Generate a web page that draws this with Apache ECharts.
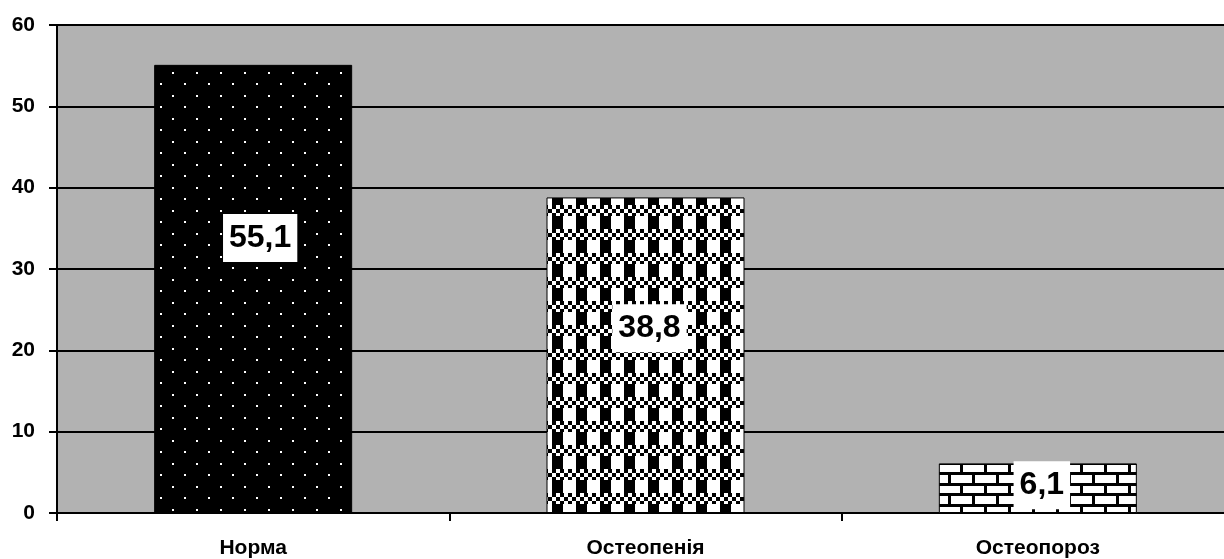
<!DOCTYPE html>
<html>
<head>
<meta charset="utf-8">
<title>Норма / Остеопенія / Остеопороз</title>
<script src="https://cdn.jsdelivr.net/npm/echarts@6/dist/echarts.min.js"></script>
<style>
  html, body { margin: 0; padding: 0; background: #fff; }
  #chart { width: 1224px; height: 559px; }
</style>
</head>
<body>
<div id="chart"></div>
<script>
// data
var categories = ['Норма', 'Остеопенія', 'Остеопороз'];
var values = [55.1, 38.8, 6.1];
var yTicks = [0, 10, 20, 30, 40, 50, 60];

// label offsets (px) to match the original placement
var labelOffsets = [[7, -51], [4, -27], [4, -3]];

// fill patterns, drawn once on small canvases
function makeTile(w, h, draw) {
  var c = document.createElement('canvas');
  c.width = w;
  c.height = h;
  draw(c.getContext('2d'), w, h);
  return c;
}

var dots = makeTile(24, 23, function (ctx, w, h) {
  ctx.fillStyle = '#000';
  ctx.fillRect(0, 0, w, h);
  ctx.fillStyle = '#fff';
  ctx.fillRect(4, 3, 2, 2);
  ctx.fillRect(16, 14, 2, 2);
});

var weave = makeTile(24, 24, function (ctx, w, h) {
  ctx.fillStyle = '#fff';
  ctx.fillRect(0, 0, w, h);
  ctx.fillStyle = '#000';
  ctx.fillRect(0, 0, 11, 13); // solid column part
  // small checker band, 3 rows of 4px cells
  for (var r = 0; r < 3; r++) {
    for (var k = 0; k < 6; k++) {
      if ((k + r) % 2 === 0) ctx.fillRect(k * 4, 13 + r * 4, 4, 4);
    }
  }
});

var bricks = makeTile(24, 21, function (ctx, w, h) {
  ctx.fillStyle = '#fff';
  ctx.fillRect(0, 0, w, h);
  ctx.fillStyle = '#000';
  ctx.fillRect(0, 0, w, 3);
  ctx.fillRect(0, 10, w, 3);
  ctx.fillRect(0, 0, 3, 10);
  ctx.fillRect(12, 10, 3, 11);
});

var patterns = [dots, weave, bricks];

var barData = values.map(function (v, i) {
  return {
    value: v,
    itemStyle: { color: { image: patterns[i], repeat: 'repeat' } },
    label: { offset: labelOffsets[i] }
  };
});

var chart = echarts.init(document.getElementById('chart'), null, { renderer: 'canvas' });

var option = {
  backgroundColor: '#fff',
  animation: false,
  textStyle: { fontFamily: 'Liberation Sans, Arial, sans-serif' },
  grid: {
    left: 57,
    top: 25,
    width: 1177,
    bottom: 46,
    outerBoundsMode: 'none',
    containLabel: false,
    show: true,
    backgroundColor: '#b2b2b2',
    borderWidth: 0
  },
  xAxis: {
    type: 'category',
    data: categories,
    axisLine: { lineStyle: { color: '#000', width: 2 } },
    axisTick: { show: true, length: 8, lineStyle: { color: '#000', width: 2 } },
    axisLabel: {
      margin: 25,
      color: '#000',
      fontSize: 21,
      fontWeight: 'bold'
    }
  },
  yAxis: {
    type: 'value',
    min: yTicks[0],
    max: yTicks[yTicks.length - 1],
    interval: 10,
    axisLine: { show: true, lineStyle: { color: '#000', width: 2 } },
    axisTick: { show: true, length: 8, lineStyle: { color: '#000', width: 2 } },
    axisLabel: {
      margin: 22,
      color: '#000',
      fontSize: 21,
      fontWeight: 'bold'
    },
    splitLine: { show: true, lineStyle: { color: '#000', width: 2 } }
  },
  series: [
    {
      type: 'bar',
      barWidth: 198,
      data: barData,
      itemStyle: { borderColor: '#000', borderWidth: 1 },
      label: {
        show: true,
        position: 'inside',
        formatter: function (p) { return String(p.value).replace('.', ','); },
        color: '#000',
        fontSize: 32,
        fontWeight: 'bold',
        backgroundColor: '#fff',
        padding: [8, 6]
      }
    }
  ]
};

chart.setOption(option);
</script>
</body>
</html>
